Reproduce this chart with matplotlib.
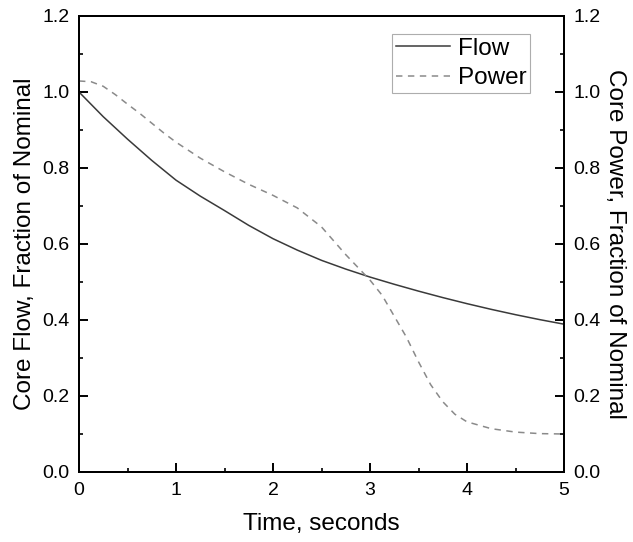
import matplotlib
matplotlib.use("Agg")
import matplotlib.pyplot as plt
from matplotlib.ticker import MultipleLocator, FormatStrFormatter

plt.rcParams["font.family"] = ["Liberation Sans", "DejaVu Sans"]

# values
flow_t = [0.0, 0.25, 0.5, 0.75, 1.0, 1.25, 1.5, 1.75, 2.0, 2.25, 2.5,
          2.75, 3.0, 3.25, 3.5, 3.75, 4.0, 4.25, 4.5, 4.75, 5.0]
flow_v = [1.0, 0.935, 0.876, 0.82, 0.768, 0.726, 0.688, 0.649, 0.614, 0.584, 0.557,
          0.534, 0.513, 0.494, 0.476, 0.459, 0.443, 0.428, 0.414, 0.401, 0.389]

power_t = [0.0, 0.125, 0.25, 0.375, 0.5, 0.625, 0.75, 0.875, 1.0, 1.25, 1.5,
           1.75, 2.0, 2.25, 2.5, 2.75, 3.0, 3.125, 3.25, 3.375, 3.5, 3.625,
           3.75, 3.875, 4.0, 4.25, 4.5, 4.75, 5.0]
power_v = [1.029, 1.027, 1.015, 0.993, 0.968, 0.944, 0.918, 0.892, 0.868, 0.826, 0.79,
           0.757, 0.728, 0.695, 0.645, 0.572, 0.505, 0.465, 0.41, 0.355, 0.29, 0.23,
           0.185, 0.152, 0.132, 0.114, 0.105, 0.101, 0.10]

fig = plt.figure(figsize=(6.33, 5.42), dpi=100)
ax = fig.add_axes([79 / 633, 1 - 472 / 542, (564 - 79) / 633, (472 - 16) / 542])
ax2 = ax.twinx()

l1, = ax.plot(flow_t, flow_v, color="#3a3a3a", lw=1.1, label="Flow")
l2, = ax.plot(power_t, power_v, color="#8a8a8a", lw=1.1, ls=(0, (4.2, 3.6)), label="Power")

for a in (ax, ax2):
    a.set_xlim(0, 5)
    a.set_ylim(0, 1.2)
    a.yaxis.set_major_locator(MultipleLocator(0.2))
    a.yaxis.set_minor_locator(MultipleLocator(0.1))
    a.yaxis.set_major_formatter(FormatStrFormatter("%.1f"))
    a.tick_params(which="major", direction="in", length=6.5, width=1.4,
                  labelsize=14, pad=7)
    a.tick_params(which="minor", direction="in", length=3, width=1.2)
    for s in a.spines.values():
        s.set_linewidth(1.4)

ax.xaxis.set_major_locator(MultipleLocator(1))
ax.xaxis.set_minor_locator(MultipleLocator(0.5))
ax.tick_params(axis="x", top=False, which="both")

ax.set_xlabel("Time, seconds", fontsize=17.5, labelpad=10)
ax.set_ylabel("Core Flow, Fraction of Nominal", fontsize=17.5, labelpad=4)
ax2.set_ylabel("Core Power, Fraction of Nominal", fontsize=17.5, rotation=270,
               va="bottom", labelpad=2)

leg = ax.legend(handles=[l1, l2], loc="upper right", bbox_to_anchor=(0.93, 0.9605),
                borderaxespad=0, fontsize=17.5, frameon=True, fancybox=False,
                handlelength=2.26, handletextpad=0.3, borderpad=0.15,
                labelspacing=0.32)
leg.get_frame().set_edgecolor("#999999")
leg.get_frame().set_linewidth(0.8)

fig.savefig("out.png", dpi=100)
